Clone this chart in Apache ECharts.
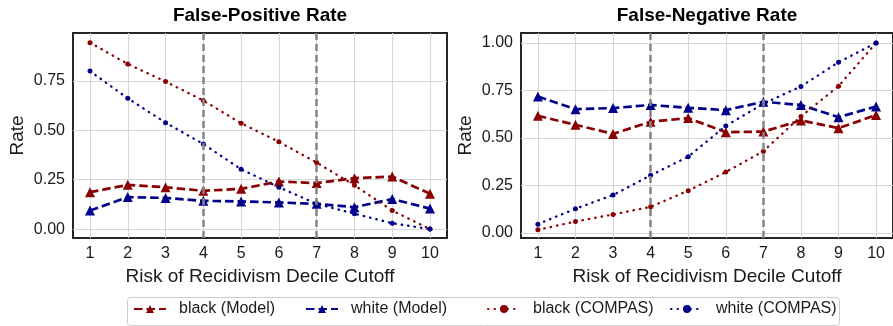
<!DOCTYPE html>
<html><head><meta charset="utf-8">
<script src="https://cdn.jsdelivr.net/npm/echarts@6/dist/echarts.min.js"></script>
<style>html,body{margin:0;padding:0;background:#fff}#c{width:893px;height:326px}</style>
</head><body><div id="c"></div>
<script>
const deciles = [1,2,3,4,5,6,7,8,9,10];
const xTicks = [1,2,3,4,5,6,7,8,9,10];
const fprTicks = [0, 0.25, 0.5, 0.75];
const fnrTicks = [0, 0.25, 0.5, 0.75, 1.0];
const cutoffLines = [4, 7];
const seriesNames = ['black (Model)', 'white (Model)', 'black (COMPAS)', 'white (COMPAS)'];
const titles = ['False-Positive Rate', 'False-Negative Rate'];

// False-positive rate
const fprBlackModel  = [0.187, 0.224, 0.212, 0.194, 0.204, 0.241, 0.233, 0.258, 0.266, 0.179];
const fprWhiteModel  = [0.094, 0.162, 0.158, 0.143, 0.140, 0.135, 0.128, 0.111, 0.152, 0.104];
const fprBlackCompas = [0.944, 0.836, 0.747, 0.651, 0.536, 0.442, 0.337, 0.222, 0.094, 0.0];
const fprWhiteCompas = [0.800, 0.662, 0.539, 0.431, 0.303, 0.212, 0.128, 0.078, 0.030, 0.0];
// False-negative rate
const fnrBlackModel  = [0.616, 0.569, 0.521, 0.585, 0.604, 0.530, 0.533, 0.592, 0.551, 0.620];
const fnrWhiteModel  = [0.718, 0.651, 0.657, 0.673, 0.658, 0.646, 0.690, 0.673, 0.609, 0.665];
const fnrBlackCompas = [0.016, 0.060, 0.097, 0.137, 0.222, 0.320, 0.430, 0.613, 0.772, 1.0];
const fnrWhiteCompas = [0.046, 0.127, 0.199, 0.303, 0.401, 0.563, 0.680, 0.771, 0.898, 1.0];

const RED = '#8B0000', BLUE = '#00008B', TXT = '#1a1a1a';
const pair = arr => deciles.map((d, i) => [d, arr[i]]);

function xAxis(gi) {
  return {
    type: 'value', gridIndex: gi, min: 0.55, max: 10.45,
    name: 'Risk of Recidivism Decile Cutoff', nameLocation: 'middle', nameGap: 22,
    nameTextStyle: { fontSize: 19, color: TXT, fontFamily: 'Liberation Sans' },
    axisLine: { show: false }, axisTick: { show: false, customValues: xTicks },
    axisLabel: { customValues: xTicks, fontSize: 16, color: TXT, margin: 8, fontFamily: 'Liberation Sans' },
    splitLine: { show: true, lineStyle: { color: '#d6d6d6', width: 1 } }
  };
}
function yAxis(gi, min, max, ticks) {
  return {
    type: 'value', gridIndex: gi, min: min, max: max,
    name: 'Rate', nameLocation: 'middle', nameGap: 46,
    nameTextStyle: { fontSize: 19, color: TXT, fontFamily: 'Liberation Sans' },
    axisLine: { show: false }, axisTick: { show: false, customValues: ticks },
    axisLabel: { customValues: ticks, fontSize: 16, color: TXT, margin: 8, fontFamily: 'Liberation Sans',
      formatter: v => v.toFixed(2) },
    splitLine: { show: true, lineStyle: { color: '#d6d6d6', width: 1 } }
  };
}
function modelSeries(name, color, data, gi, withMark) {
  const s = {
    name, type: 'line', xAxisIndex: gi, yAxisIndex: gi, data: pair(data),
    symbol: 'triangle', symbolSize: 10, showAllSymbol: true,
    itemStyle: { color: color },
    lineStyle: { color: color, width: 2.7, type: [8.5, 4] },
    animation: false, z: 3
  };
  if (withMark) {
    s.markLine = {
      silent: true, symbol: 'none', animation: false,
      label: { show: false },
      lineStyle: { color: '#858585', width: 2.5, type: [7, 4] },
      data: cutoffLines.map(v => ({ xAxis: v }))
    };
  }
  return s;
}
function compasSeries(name, color, data, gi) {
  return {
    name, type: 'line', xAxisIndex: gi, yAxisIndex: gi, data: pair(data),
    symbol: 'circle', symbolSize: 5, showAllSymbol: true,
    itemStyle: { color: color },
    lineStyle: { color: color, width: 2.3, type: [0.5, 6], cap: 'round' },
    animation: false, z: 3
  };
}

const legendLefts = [133, 305, 487, 670];
const legends = seriesNames.map((n, i) => ({
  data: [n], left: legendLefts[i], top: 301, padding: 0,
  itemWidth: 32, itemHeight: 10,
  textStyle: { fontSize: 16, color: TXT, fontFamily: 'Liberation Sans', padding: [0, 0, 0, 8] },
  selectedMode: false
}));

const chart = echarts.init(document.getElementById('c'), null, { renderer: 'canvas' });
chart.setOption({
  animation: false,
  backgroundColor: '#fff',
  title: [
    { text: titles[0], left: 260, top: 6, textAlign: 'center', padding: 0,
      textStyle: { fontSize: 19, fontWeight: 'bold', color: '#000', fontFamily: 'Liberation Sans' } },
    { text: titles[1], left: 707, top: 6, textAlign: 'center', padding: 0,
      textStyle: { fontSize: 19, fontWeight: 'bold', color: '#000', fontFamily: 'Liberation Sans' } }
  ],
  grid: [
    { left: 73, top: 33, width: 374, height: 205, show: true, borderColor: '#262626', borderWidth: 2, backgroundColor: 'transparent' },
    { left: 521, top: 33, width: 373, height: 205, show: true, borderColor: '#262626', borderWidth: 2, backgroundColor: 'transparent' }
  ],
  xAxis: [xAxis(0), xAxis(1)],
  yAxis: [yAxis(0, -0.045, 0.993, fprTicks), yAxis(1, -0.027, 1.052, fnrTicks)],
  legend: legends,
  graphic: [{
    type: 'rect', shape: { x: 127.5, y: 297.5, width: 712, height: 28, r: 3 },
    style: { fill: 'transparent', stroke: '#cccccc', lineWidth: 1 }, z: -1
  }],
  series: [
    modelSeries(seriesNames[0], RED, fprBlackModel, 0, true),
    modelSeries(seriesNames[1], BLUE, fprWhiteModel, 0, false),
    compasSeries(seriesNames[2], RED, fprBlackCompas, 0),
    compasSeries(seriesNames[3], BLUE, fprWhiteCompas, 0),
    modelSeries(seriesNames[0], RED, fnrBlackModel, 1, true),
    modelSeries(seriesNames[1], BLUE, fnrWhiteModel, 1, false),
    compasSeries(seriesNames[2], RED, fnrBlackCompas, 1),
    compasSeries(seriesNames[3], BLUE, fnrWhiteCompas, 1)
  ]
});
</script></body></html>
